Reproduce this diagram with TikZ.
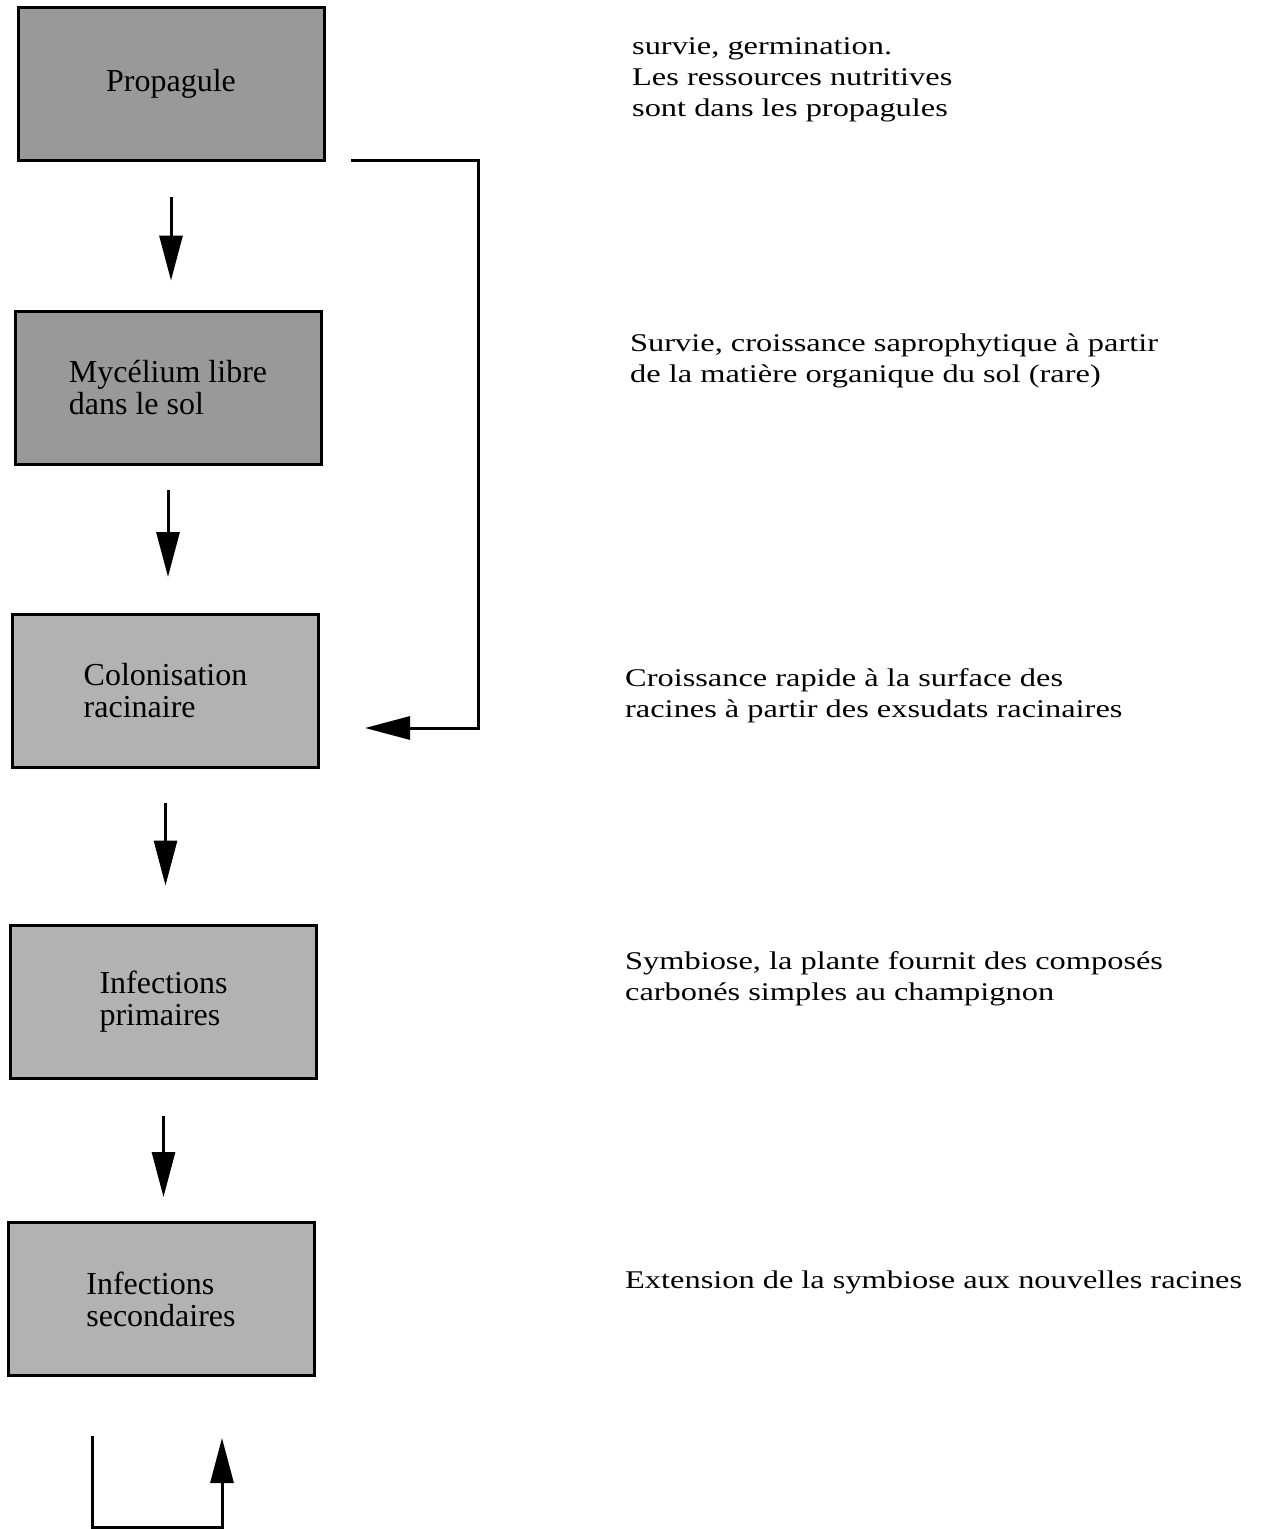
\documentclass[tikz,border=0pt]{standalone}
\usepackage{fontspec}
\setmainfont{Liberation Serif}
\newfontfamily\rfont{Liberation Serif}[FakeStretch=1.27]
\usetikzlibrary{arrows.meta}
\begin{document}
\begin{tikzpicture}[x=1pt,y=-1pt,
  box/.style={draw=black, line width=3pt, minimum width=306pt, minimum height=153pt,
    inner sep=0pt, font=\fontsize{32}{32}\selectfont, align=left},
  darkbox/.style={box, fill=black!40},
  lightbox/.style={box, fill=black!30},
  arr/.style={line width=3pt, -{Triangle[length=45pt,width=23pt]}},
  note/.style={anchor=base west, inner sep=0pt, font=\rfont\fontsize{25.5}{31}\selectfont, align=left}]
\useasboundingbox (0,0) rectangle (1268,1529);

% boxes
\node[darkbox] (b1) at (171,83.5) {Propagule};
\node[darkbox] (b2) at (168,387.5) {Mycélium libre\\dans le sol};
\node[lightbox] (b3) at (165.5,691) {Colonisation\\racinaire};
\node[lightbox] (b4) at (163.5,1001.5) {Infections\\primaires};
\node[lightbox] (b5) at (161,1299) {Infections\\secondaires};

% vertical arrows
\draw[arr] ([yshift=-35pt]b1.south) -- ([yshift=29pt]b1.south |- b2.north);
\draw[arr] ([yshift=-24pt]b2.south) -- ([yshift=36pt]b2.south |- b3.north);
\draw[arr] ([yshift=-34pt]b3.south) -- ([yshift=38pt]b3.south |- b4.north);
\draw[arr] ([yshift=-36pt]b4.south) -- ([yshift=24pt]b4.south |- b5.north);

% loop from Propagule to Colonisation
\coordinate (t1) at (351,160);
\coordinate (t2) at (478,160);
\coordinate (t3) at (478,728);
\coordinate (t4) at (365,728);
\draw[arr] (t1) -- (t2) -- (t3) -- (t4);

% bottom loop
\coordinate (u1) at (92,1436);
\coordinate (u2) at (92,1527);
\coordinate (u3) at (222,1527);
\coordinate (u4) at (222,1438);
\draw[arr] (u1) -- (u2) -- (u3) -- (u4);

% notes (anchored at the baseline of their last line)
\node[note] (n1) at (632,116) {survie, germination.\\Les ressources nutritives\\sont dans les propagules};
\node[note] (n2) at (630,382) {Survie, croissance saprophytique à partir\\de la matière organique du sol (rare)};
\node[note] (n3) at (625,717) {Croissance rapide à la surface des\\racines à partir des exsudats racinaires};
\node[note] (n4) at (625,1000) {Symbiose, la plante fournit des composés\\carbonés simples au champignon};
\node[note] (n5) at (625,1288) {Extension de la symbiose aux nouvelles racines};
\end{tikzpicture}
\end{document}
